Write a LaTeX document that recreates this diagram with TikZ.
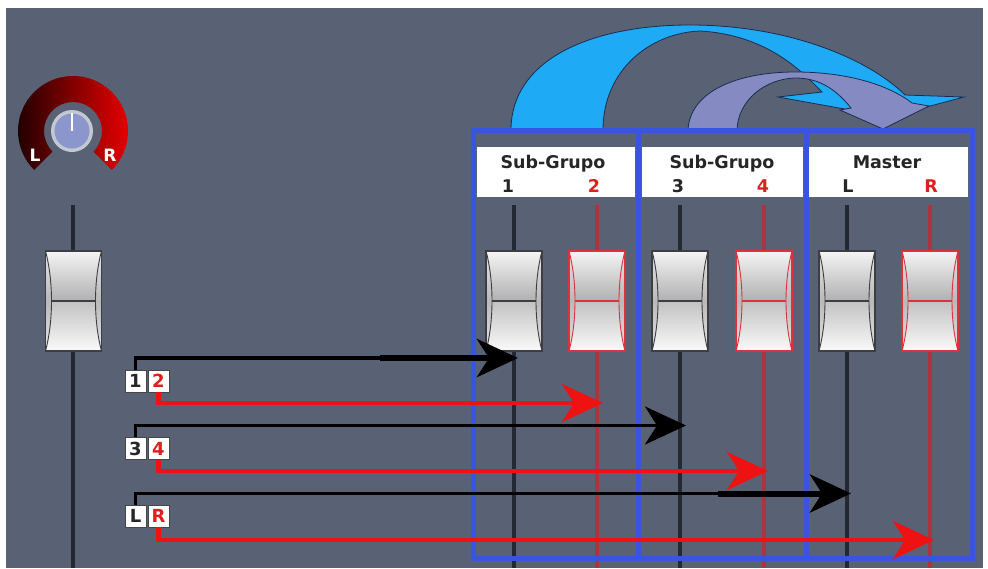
\documentclass[tikz,border=0pt]{standalone}
\usepackage{fontspec}
\setmainfont{DejaVu Sans}
\usetikzlibrary{arrows.meta}
\definecolor{bg}{RGB}{88,98,116}
\definecolor{boxblue}{RGB}{55,85,225}
\definecolor{arrblue}{RGB}{30,170,245}
\definecolor{arrpurple}{RGB}{134,138,194}
\definecolor{arredge}{RGB}{25,45,80}
\definecolor{trkdark}{RGB}{36,40,50}
\definecolor{trkred}{RGB}{170,52,66}
\definecolor{txtred}{RGB}{225,30,30}
\definecolor{linered}{RGB}{238,18,18}
\definecolor{faderred}{RGB}{220,50,62}
\definecolor{faderdark}{RGB}{60,62,66}
\definecolor{knobfill}{RGB}{138,150,204}
\definecolor{knobring}{RGB}{196,200,210}

\newcommand\drawfaderbox[3]{%
  \begin{scope}[shift={(#1,#2)}]
    \shade[top color=gray!20, bottom color=gray!20, middle color=gray!55]
      (-28,-50) rectangle (28,50);
    \shade[top color=gray!8, bottom color=gray!62]
      (-28,-50) -- (28,-50) .. controls (24,-35) and (22,-17.5) .. (22,0)
      -- (-22,0) .. controls (-22,-17.5) and (-24,-35) .. (-28,-50) -- cycle;
    \shade[top color=gray!48, bottom color=gray!4]
      (-22,0) -- (22,0) .. controls (22,17.5) and (24,35) .. (28,50)
      -- (-28,50) .. controls (-24,35) and (-22,17.5) .. (-22,0) -- cycle;
    \draw[#3, line width=0.9pt] (28,-50) .. controls (20,-20) and (20,20) .. (28,50);
    \draw[#3, line width=0.9pt] (-28,-50) .. controls (-20,-20) and (-20,20) .. (-28,50);
    \draw[#3, line width=1.2pt] (-22,0) -- (22,0);
    \draw[#3, line width=1.6pt] (-28,-50) rectangle (28,50);
  \end{scope}}

\tikzset{
  hdrtext/.style={anchor=base, inner sep=0pt, font=\fontsize{17.5}{20}\selectfont\bfseries, text=black!85},
  hdrred/.style={hdrtext, text=txtred},
  lbl/.style={draw=gray!55!black, line width=0.6pt, fill=white, minimum width=21pt,
    minimum height=22pt, inner sep=0pt, font=\fontsize{18}{18}\selectfont\bfseries, text=black!85},
  lblred/.style={lbl, text=txtred},
  knoblbl/.style={inner sep=0pt, font=\fontsize{17}{17}\selectfont\bfseries, text=white},
  blkline/.style={draw=black, line width=3.5pt},
  blkthick/.style={draw=black, line width=6pt},
  redline/.style={draw=linered, line width=4.5pt},
  bigtip/.style={-{Stealth[length=41pt,width=38pt,inset=12pt]}},
  trackdark/.style={draw=trkdark, line width=4.5pt},
  trackred/.style={draw=trkred, line width=4.5pt},
  blueframe/.style={draw=boxblue, line width=5pt},
  hdrbox/.style={fill=white},
  curvearrow/.style={draw=arredge, line width=0.8pt},
}

\begin{document}
\begin{tikzpicture}[x=1pt,y=-1pt]
\useasboundingbox (0,0) rectangle (988,568);
\fill[white] (0,0) rectangle (988,568);
\fill[bg] (6,8) rectangle (983,568);

% curved arrows
\path[curvearrow, fill=arrblue]
  (511,130) .. controls (511,60) and (590,25) .. (690,25)
  .. controls (790,25) and (870,60) .. (905,95)
  -- (964,97) -- (889,117) -- (778,97) -- (822,92)
  .. controls (805,75) and (770,35) .. (700,31)
  .. controls (650,33) and (603,70) .. (603,130) -- cycle;
\path[curvearrow, fill=arrpurple]
  (688,130) .. controls (690,90) and (740,72) .. (795,72)
  .. controls (850,72) and (890,86) .. (912,103)
  -- (929,106) -- (883,129) -- (840,110) -- (851,108)
  .. controls (835,88) and (818,78) .. (795,78)
  .. controls (765,79) and (738,100) .. (737,130) -- cycle;

% pan knob
\shade[left color={rgb,255:red,25;green,0;blue,0}, middle color={rgb,255:red,185;green,0;blue,0},
       right color={rgb,255:red,238;green,0;blue,0}]
  ([shift={(135:55)}]73,131) arc[start angle=135, end angle=405, radius=55]
  -- ([shift={(45:29)}]73,131) arc[start angle=405, end angle=135, radius=29] -- cycle;
\fill[knobring] (72,131) circle[radius=21];
\fill[knobfill] (72,131) circle[radius=17.5];
\draw[white, line width=2.5pt] (72,131) -- (72,113);
\node[knoblbl] (kL) at (35,155) {L};
\node[knoblbl] (kR) at (110,155) {R};

% tracks
\draw[trackdark] (73,205) -- (73,568);
\draw[trackdark] (514,205) -- (514,568);
\draw[trackred]  (597,205) -- (597,568);
\draw[trackdark] (680,205) -- (680,568);
\draw[trackred]  (764,205) -- (764,568);
\draw[trackdark] (847,205) -- (847,568);
\draw[trackred]  (930,205) -- (930,568);

% faders
\drawfaderbox{73.5}{301}{faderdark}
\drawfaderbox{514}{301}{faderdark}
\drawfaderbox{597}{301}{faderred}
\drawfaderbox{680}{301}{faderdark}
\drawfaderbox{764}{301}{faderred}
\drawfaderbox{847}{301}{faderdark}
\drawfaderbox{930}{301}{faderred}

% group frames and headers
\fill[hdrbox] (477,147) rectangle (635,197);
\fill[hdrbox] (642,147) rectangle (803,197);
\fill[hdrbox] (809,147) rectangle (968,197);
\draw[blueframe] (473,130) rectangle (638,558);
\draw[blueframe] (638,130) rectangle (806,558);
\draw[blueframe] (806,130) rectangle (972,558);

\node[hdrtext] (g1) at (553,168) {Sub-Grupo};
\node[hdrtext] (g2) at (722,168) {Sub-Grupo};
\node[hdrtext] (g3) at (887,168) {Master};
\node[hdrtext] (h1) at (508,192) {1};
\node[hdrred]  (h2) at (594,192) {2};
\node[hdrtext] (h3) at (678,192) {3};
\node[hdrred]  (h4) at (763,192) {4};
\node[hdrtext] (h5) at (848,192) {L};
\node[hdrred]  (h6) at (931,192) {R};

% send selector boxes
\node[lbl]    (b1) at (135.5,381) {1};
\node[lblred] (b2) at (158.5,381) {2};
\node[lbl]    (b3) at (135.5,448.5) {3};
\node[lblred] (b4) at (158.5,448.5) {4};
\node[lbl]    (b5) at (135.5,516) {L};
\node[lblred] (b6) at (158.5,516) {R};

% arrow targets
\coordinate (k1) at (518,358);
\coordinate (k1s) at (380,358);
\coordinate (k2) at (603,403);
\coordinate (k3) at (686,425.5);
\coordinate (k4) at (768,471);
\coordinate (k5) at (851,493.5);
\coordinate (k5s) at (718,493.5);
\coordinate (k6) at (934,540);

\draw[blkline] (b1.north) |- (k1s);
\draw[blkthick, bigtip] (k1s) -- (k1);
\draw[redline, bigtip] (b2.south) |- (k2);
\draw[blkline, bigtip] (b3.north) |- (k3);
\draw[redline, bigtip] (b4.south) |- (k4);
\draw[blkline] (b5.north) |- (k5s);
\draw[blkthick, bigtip] (k5s) -- (k5);
\draw[redline, bigtip] (b6.south) |- (k6);
\end{tikzpicture}
\end{document}
